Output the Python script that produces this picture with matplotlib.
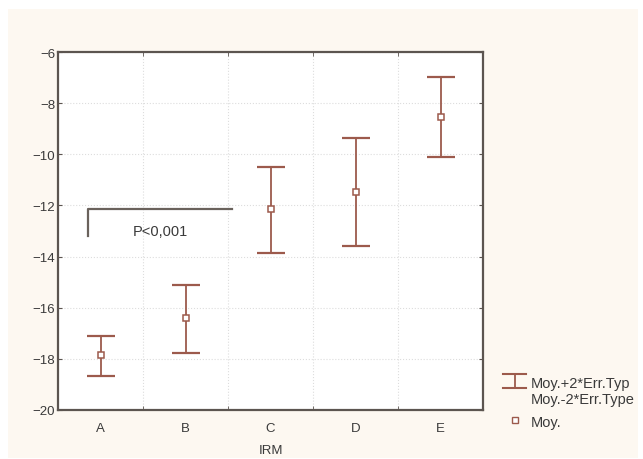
import matplotlib.pyplot as plt
from matplotlib.patches import Rectangle
from matplotlib.lines import Line2D

plt.rcParams['font.family'] = ['Liberation Sans', 'DejaVu Sans']

# data
groups = ['A', 'B', 'C', 'D', 'E']
means = [-17.85, -16.4, -12.14, -11.47, -8.54]
upper = [-17.1, -15.1, -10.5, -9.36, -6.98]
lower = [-18.67, -17.77, -13.86, -13.59, -10.1]

# bracket for the significance note
bracket_x = [0.85, 0.85, 2.55]
bracket_y = [-13.2, -12.15, -12.15]

bar_col = '#9c5a4c'
axis_col = '#5c5550'
text_col = '#3a3a3a'
cream = '#fdf8f1'

W, H = 643, 460
fig = plt.figure(figsize=(W / 100, H / 100), dpi=100)
fig.patch.set_facecolor('white')
fig.add_artist(Rectangle((8 / W, 1 / H), 630 / W, 449 / H,
                         transform=fig.transFigure, facecolor=cream,
                         edgecolor='none', zorder=-10))

ax = fig.add_axes([58 / W, 49 / H, 425 / W, 358 / H])
ax.set_facecolor('white')

x = list(range(1, len(groups) + 1))
yerr_low = [m - l for m, l in zip(means, lower)]
yerr_up = [u - m for m, u in zip(means, upper)]
ax.errorbar(x, means, yerr=[yerr_low, yerr_up], fmt='none',
            ecolor=bar_col, elinewidth=1.3, capsize=10, capthick=1.6,
            zorder=3)
ax.plot(x, means, linestyle='none', marker='s', markersize=5,
        markerfacecolor='white', markeredgecolor=bar_col,
        markeredgewidth=1.1, zorder=4)

ax.plot(bracket_x, bracket_y, color='#6a625c', linewidth=1.6, zorder=2)
ax.text(1.7, -13.0, 'P<0,001', ha='center', va='center', fontsize=10.5,
        color=text_col)

ax.set_xlim(0.5, 5.5)
ax.set_ylim(-20, -6)
ax.set_yticks(range(-20, -5, 2))
ax.set_xticks(x)
ax.set_xticklabels(groups)
ax.set_xticks([1.5, 2.5, 3.5, 4.5], minor=True)
ax.grid(True, which='minor', axis='x', color='#dddddd', linestyle=':', linewidth=0.8)
ax.grid(True, which='major', axis='y', color='#dddddd', linestyle=':', linewidth=0.8)
ax.tick_params(axis='x', which='major', length=0, pad=9, labelsize=9.5, labelcolor=text_col)
ax.tick_params(axis='x', which='minor', length=3, direction='in', top=True,
               color=axis_col)
ax.tick_params(axis='y', which='major', length=3, direction='in', right=True,
               color=axis_col, labelsize=9.5, labelcolor=text_col, pad=2)
for s in ax.spines.values():
    s.set_color(axis_col)
    s.set_linewidth(1.6)

ax.set_xlabel('IRM', fontsize=9.5, color=text_col, labelpad=7)

# legend drawn by hand, clipped at the right edge like the original
def fy(y):
    return 1 - y / H

for yy in (375, 389):
    fig.add_artist(Line2D([503 / W, 526 / W], [fy(yy), fy(yy)], color=bar_col,
                          linewidth=1.5, transform=fig.transFigure))
fig.add_artist(Line2D([514.5 / W, 514.5 / W], [fy(375), fy(389)], color=bar_col,
                      linewidth=1.3, transform=fig.transFigure))
fig.add_artist(Line2D([515 / W], [fy(421)], marker='s', markersize=4,
                      markerfacecolor='white', markeredgecolor=bar_col,
                      markeredgewidth=1.0, linestyle='none',
                      transform=fig.transFigure))
leg_kw = dict(fontsize=10.5, color=text_col, ha='left', va='center')
fig.text(531 / W, fy(384), 'Moy.+2*Err.Typ', **leg_kw)
fig.text(531 / W, fy(400), 'Moy.-2*Err.Type', **leg_kw)
fig.text(531 / W, fy(423), 'Moy.', **leg_kw)

fig.savefig('out.png', dpi=100)
